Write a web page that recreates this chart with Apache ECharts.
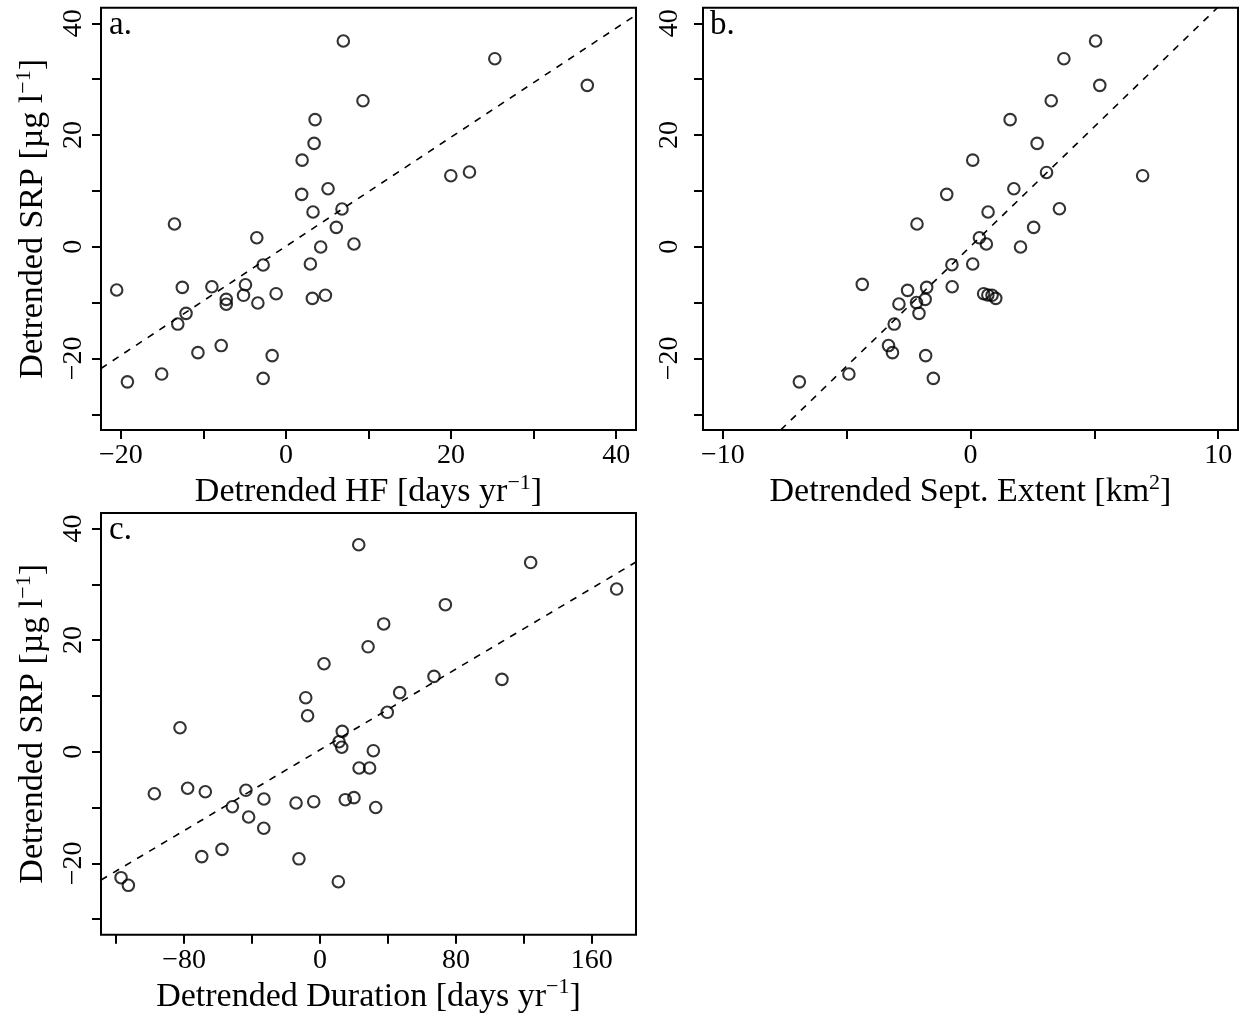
<!DOCTYPE html>
<html><head><meta charset="utf-8">
<script src="https://cdn.jsdelivr.net/npm/echarts@6/dist/echarts.min.js"></script>
<style>html,body{margin:0;padding:0;background:#fff}#c{width:1242px;height:1016px}</style>
</head><body><div id="c"></div>
<script>
// Panel a: Detrended HF vs Detrended SRP
const hfX = [-20.5, -19.2, -15.05, -13.5, -12.55, -13.1, -12.1, -10.66, -8.97, -7.84, -7.23, -7.23, -5.14, -4.9, -3.53, -3.4, -2.76, -2.76, -1.67, -1.19, 1.96, 1.91, 3.28, 2.96, 3.2, 3.41, 3.53, 4.21, 4.78, 5.1, 6.1, 6.79, 6.95, 8.24, 9.33, 19.97, 22.23, 25.3, 36.5];
const hfY = [-7.75, -24.2, -22.8, 4.07, -7.28, -13.85, -11.93, -18.97, -7.16, -17.7, -9.42, -10.3, -8.7, -6.8, 1.6, -10.08, -3.28, -23.57, -19.5, -8.41, 15.5, 9.38, 6.21, -3.1, -9.25, 18.5, 22.75, -0.05, -8.7, 10.39, 3.47, 6.75, 36.83, 0.48, 26.14, 12.72, 13.37, 33.67, 28.9];
// Panel b: Detrended Sept. Extent vs Detrended SRP
const extentX = [-6.91, -4.91, -4.37, -3.31, -3.15, -3.08, -2.89, -2.54, -2.16, -2.18, -2.08, -1.83, -1.77, -1.81, -1.5, -0.96, -0.75, -0.74, 0.09, 0.09, 0.36, 0.64, 0.71, 0.53, 0.70, 0.87, 1.02, 1.6, 1.75, 2.02, 2.55, 2.69, 3.07, 3.26, 3.59, 3.77, 5.05, 5.22, 6.95];
const extentY = [-24.2, -22.8, -6.74, -17.7, -18.97, -13.85, -10.26, -7.81, 4.07, -10.0, -11.93, -9.42, -7.28, -19.5, -23.57, 9.38, -3.22, -7.16, 15.5, -3.1, 1.6, 0.48, 6.21, -8.41, -8.65, -8.7, -9.24, 22.75, 10.39, -0.05, 3.47, 18.5, 13.3, 26.14, 6.8, 33.67, 36.83, 28.9, 12.72];
// Panel c: Detrended Duration vs Detrended SRP
const durationX = [-117.1, -112.8, -97.5, -82.4, -77.9, -69.6, -67.5, -57.7, -51.6, -43.6, -42.0, -33.0, -33.1, -14.1, -12.4, -3.7, -8.4, -7.3, 2.35, 10.8, 11.2, 12.8, 13.1, 14.9, 20.0, 23.0, 22.8, 28.3, 29.2, 31.4, 32.8, 37.5, 39.6, 46.9, 73.8, 67.1, 107.1, 124.0, 174.6];
const durationY = [-22.58, -23.95, -7.53, 4.3, -6.56, -18.8, -7.17, -17.5, -9.86, -6.92, -11.7, -8.48, -13.73, -9.19, -19.2, -8.96, 9.68, 6.45, 15.77, -23.3, 1.79, 0.79, 3.65, -8.6, -8.24, -2.92, 37.1, 18.8, -2.92, 0.18, -10.0, 22.9, 7.06, 10.58, 26.35, 13.5, 12.97, 33.9, 29.15];

// Fitted (dashed) regression lines, endpoints
const fitAX = [-22.4, 42.4], fitAY = [-21.8, 41.5];
const fitBX = [-7.66, 9.97], fitBY = [-32.8, 42.8];
const fitCX = [-128.9, 186.0], fitCY = [-23.0, 34.0];

// Axis ranges and ticks
const srpRange = [-32.8, 42.8];
const srpTicks = [-30, -20, -10, 0, 10, 20, 30, 40];
const srpLabels = [-20, 0, 20, 40];
const hfRange = [-22.4, 42.4];
const hfTicks = [-20, -10, 0, 10, 20, 30, 40];
const hfLabels = [-20, 0, 20, 40];
const extentRange = [-10.8, 10.8];
const extentTicks = [-10, -5, 0, 5, 10];
const extentLabels = [-10, 0, 10];
const durationRange = [-128.9, 186.0];
const durationTicks = [-120, -80, -40, 0, 40, 80, 120, 160];
const durationLabels = [-80, 0, 80, 160];

const FONT = '"Liberation Serif", "Times New Roman", serif';
const zip = (a, b) => a.map((v, i) => [v, b[i]]);
const fmt = v => String(v).replace('-', '\u2212');
const rich = {
  t: { fontSize: 34, fontFamily: FONT, color: '#000', lineHeight: 40 },
  s: { fontSize: 22, fontFamily: FONT, color: '#000', verticalAlign: 'top', lineHeight: 38 }
};

function xAxis(grid, range, ticks, labels, name) {
  return {
    type: 'value', gridIndex: grid, min: range[0], max: range[1], position: 'bottom',
    axisLine: { show: false, onZero: false },
    splitLine: { show: false },
    axisTick: { show: true, inside: false, length: 9, customValues: ticks, lineStyle: { color: '#000', width: 2 } },
    axisLabel: { customValues: labels, formatter: fmt, fontSize: 28, fontFamily: FONT, color: '#000', margin: 12 },
    name: name, nameLocation: 'middle', nameGap: 42,
    nameTextStyle: { rich: rich, fontSize: 34, fontFamily: FONT, color: '#000' }
  };
}
function yAxis(grid, name, labelMargin) {
  return {
    type: 'value', gridIndex: grid, min: srpRange[0], max: srpRange[1], position: 'left',
    axisLine: { show: false, onZero: false },
    splitLine: { show: false },
    axisTick: { show: true, inside: false, length: 9, customValues: srpTicks, lineStyle: { color: '#000', width: 2 } },
    axisLabel: { customValues: srpLabels, formatter: fmt, rotate: 90, fontSize: 28, fontFamily: FONT, color: '#000', margin: labelMargin },
    name: name || '', nameLocation: 'middle', nameGap: 48, nameRotate: 90,
    nameTextStyle: { rich: rich, fontSize: 34, fontFamily: FONT, color: '#000' }
  };
}
function scatter(i, xs, ys) {
  return {
    type: 'scatter', xAxisIndex: i, yAxisIndex: i, data: zip(xs, ys),
    symbol: 'circle', symbolSize: 11.5,
    itemStyle: { color: 'rgba(0,0,0,0)', borderColor: '#000', borderWidth: 2.1 },
    emphasis: { disabled: true }, silent: true, z: 3
  };
}
function fit(i, xs, ys) {
  return {
    type: 'line', xAxisIndex: i, yAxisIndex: i, data: zip(xs, ys),
    symbol: 'none', clip: true,
    lineStyle: { color: '#000', width: 1.6, type: [7, 7] },
    emphasis: { disabled: true }, silent: true, z: 2
  };
}

const srpName = '{t|Detrended SRP [\u00b5g l}{s|\u22121}{t|]}';
const gridStyle = { show: true, borderColor: '#000', borderWidth: 2, backgroundColor: 'transparent', containLabel: false };

const option = {
  backgroundColor: '#fff',
  animation: false,
  grid: [
    Object.assign({ left: 101, top: 7.7, width: 535, height: 422.2 }, gridStyle),
    Object.assign({ left: 703, top: 7.7, width: 535, height: 422.2 }, gridStyle),
    Object.assign({ left: 101, top: 512.9, width: 535, height: 421.8 }, gridStyle)
  ],
  xAxis: [
    xAxis(0, hfRange, hfTicks, hfLabels, '{t|Detrended HF [days yr}{s|\u22121}{t|]}'),
    xAxis(1, extentRange, extentTicks, extentLabels, '{t|Detrended Sept. Extent [km}{s|2}{t|]}'),
    xAxis(2, durationRange, durationTicks, durationLabels, '{t|Detrended Duration [days yr}{s|\u22121}{t|]}')
  ],
  yAxis: [
    yAxis(0, srpName, 13),
    yAxis(1, '', 19),
    yAxis(2, srpName, 13)
  ],
  graphic: [
    { type: 'text', x: 109, y: 25, style: { text: 'a.', font: '33px ' + FONT, fill: '#000', verticalAlign: 'middle' } },
    { type: 'text', x: 710, y: 25, style: { text: 'b.', font: '33px ' + FONT, fill: '#000', verticalAlign: 'middle' } },
    { type: 'text', x: 109, y: 530, style: { text: 'c.', font: '33px ' + FONT, fill: '#000', verticalAlign: 'middle' } }
  ],
  series: [
    fit(0, fitAX, fitAY), scatter(0, hfX, hfY),
    fit(1, fitBX, fitBY), scatter(1, extentX, extentY),
    fit(2, fitCX, fitCY), scatter(2, durationX, durationY)
  ]
};
const chart = echarts.init(document.getElementById('c'), null, { renderer: 'canvas' });
chart.setOption(option);
</script>
</body></html>
